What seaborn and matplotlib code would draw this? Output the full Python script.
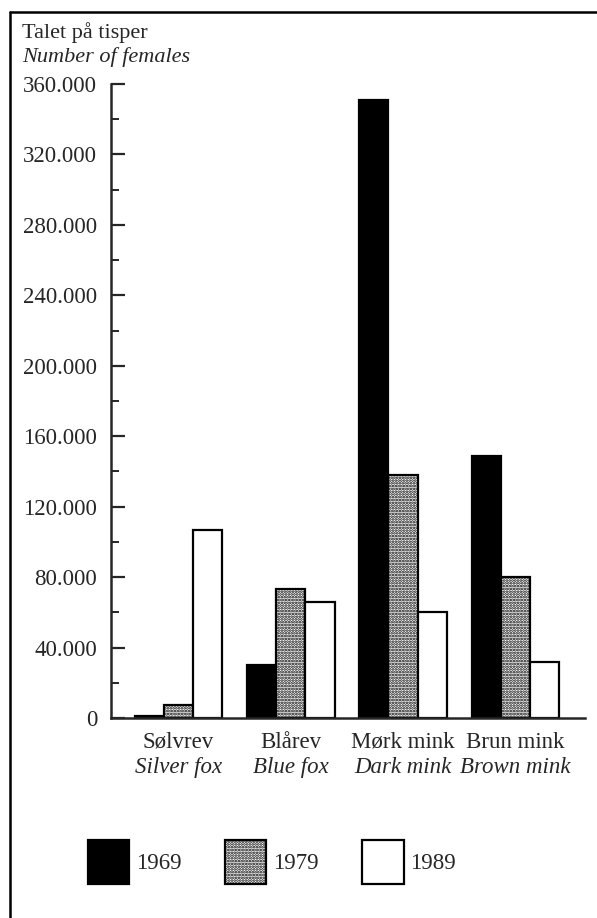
import matplotlib
matplotlib.use("Agg")
import matplotlib.pyplot as plt
import matplotlib.ticker as mticker
from matplotlib.lines import Line2D
import pandas as pd
import seaborn as sns

# Data (number of female animals)
species_no = ["Sølvrev", "Blårev", "Mørk mink", "Brun mink"]
species_en = ["Silver fox", "Blue fox", "Dark mink", "Brown mink"]
years = ["1969", "1979", "1989"]
females_1969 = [1000, 30000, 351000, 149000]
females_1979 = [7500, 73000, 138000, 80000]
females_1989 = [107000, 66000, 60000, 32000]

rows = []
for yr, vals in zip(years, [females_1969, females_1979, females_1989]):
    for sp, v in zip(species_no, vals):
        rows.append({"species": sp, "year": yr, "females": v})
df = pd.DataFrame(rows)

sns.set_style("ticks")
plt.rcParams["font.family"] = ["Liberation Serif", "DejaVu Serif"]
plt.rcParams["hatch.linewidth"] = 1.3

fig = plt.figure(figsize=(5.97, 9.18), dpi=100)
ax = fig.add_axes([111 / 597, 1 - 718 / 918, (585 - 111) / 597, (718 - 84) / 918])

sns.barplot(data=df, x="species", y="females", hue="year", order=species_no,
            hue_order=years, palette=["black", "white", "white"], saturation=1,
            edgecolor="black", linewidth=1.6, width=0.78, ax=ax)

for bar in ax.containers[1]:
    bar.set_hatch("......")

ax.set_ylim(0, 360000)
ax.set_xlim(-0.6, 3.62)
ax.yaxis.set_major_locator(mticker.MultipleLocator(40000))
ax.yaxis.set_minor_locator(mticker.MultipleLocator(20000))
ax.yaxis.set_major_formatter(
    mticker.FuncFormatter(lambda v, p: f"{int(v):,}".replace(",", ".")))
ax.tick_params(axis="y", which="major", direction="in", length=10, width=1.6,
               labelsize=16.5, pad=10)
ax.tick_params(axis="y", which="minor", direction="in", length=6, width=1.4)
ax.tick_params(axis="x", length=0, labelsize=16.5, pad=10)
ax.set_xlabel("")
ax.set_ylabel("")
sns.despine(ax=ax)
for s in ["left", "bottom"]:
    ax.spines[s].set_linewidth(1.8)

for i, name in enumerate(species_en):
    ax.annotate(name, xy=(i, 0), xycoords=("data", "axes fraction"),
                xytext=(0, -28), textcoords="offset points", ha="center",
                va="top", fontsize=16.5, style="italic")

fig.text(22 / 597, 1 - 33 / 918, "Talet på tisper", fontsize=16, va="center")
fig.text(22 / 597, 1 - 57 / 918, "Number of females", fontsize=16,
         va="center", style="italic")

ax.get_legend().remove()
fig.legend(handles=ax.containers, labels=years, loc="center",
           bbox_to_anchor=(272 / 597, 1 - 862 / 918), ncol=3, frameon=False,
           fontsize=16.5, handlelength=1.8, handleheight=2.6, handletextpad=0.3,
           columnspacing=1.9)

# frame around the figure
fig.add_artist(Line2D([10 / 597, 10 / 597], [0, 1 - 12 / 918], color="black",
                      lw=1.8, transform=fig.transFigure))
fig.add_artist(Line2D([10 / 597, 1], [1 - 12 / 918, 1 - 12 / 918], color="black",
                      lw=1.8, transform=fig.transFigure))

fig.savefig("out.png", dpi=100)
